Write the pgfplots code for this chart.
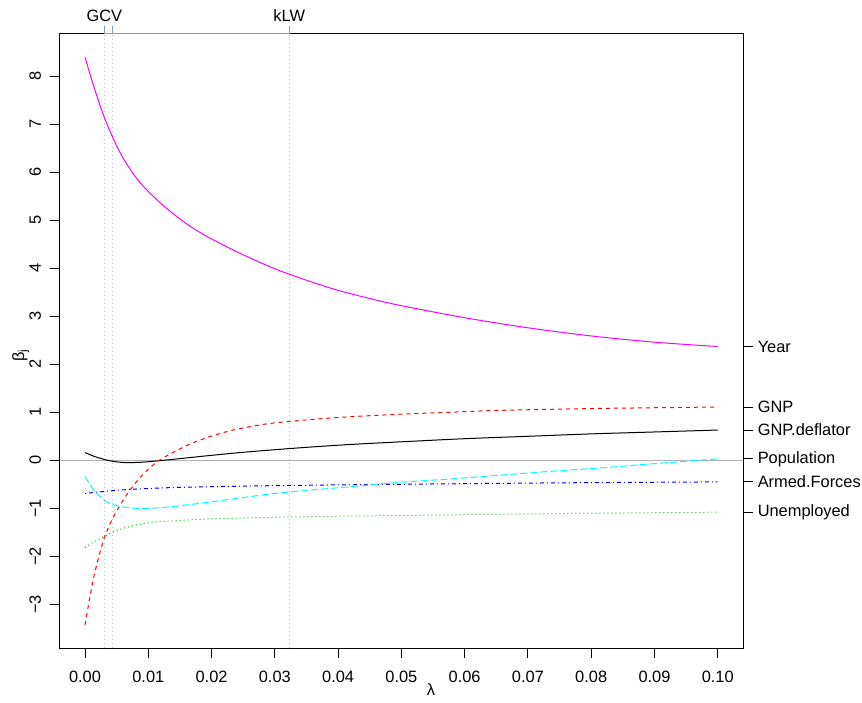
\documentclass[border=0pt]{standalone}
\usepackage{fontspec}
\setmainfont{Liberation Sans}
\usepackage{pgfplots}
\pgfplotsset{compat=1.18}
\definecolor{topc}{RGB}{120,160,190}
\definecolor{vlc}{RGB}{160,200,225}
\definecolor{grn}{RGB}{0,205,0}
\definecolor{mag}{RGB}{255,0,255}
\definecolor{cyn}{RGB}{0,255,255}
\definecolor{blu}{RGB}{0,0,255}
\definecolor{rd}{RGB}{255,0,0}
\newcommand{\lf}{\fontsize{12.3}{14}\selectfont}
\begin{document}
\begin{tikzpicture}
\useasboundingbox (0,0) rectangle (646.5pt,526.5pt);
\pgfplotsset{
  common/.style={
    at={(44.78pt,40.5pt)}, anchor=south west,
    scale only axis, width=512.5pt, height=460.5pt,
    xmin=-0.004, xmax=0.104, ymin=-3.91, ymax=8.88,
    tick align=outside, major tick length=7.5pt,
    tick label style={font=\lf},
  }
}
% main axis
\begin{axis}[common,
  axis line style={line width=0.75pt},
  tick style={black, line width=0.75pt},
  xtick pos=bottom, ytick pos=left,
  xtick={0,0.01,0.02,0.03,0.04,0.05,0.06,0.07,0.08,0.09,0.1},
  xticklabels={0.00,0.01,0.02,0.03,0.04,0.05,0.06,0.07,0.08,0.09,0.10},
  xticklabel style={yshift=-6.5pt},
  ytick={-3,-2,-1,0,1,2,3,4,5,6,7,8},
  yticklabels={−3,−2,−1,0,1,2,3,4,5,6,7,8},
  yticklabel style={rotate=90, anchor=south, yshift=3pt},
  clip=true,
]
\addplot[gray!60, line width=0.75pt] coordinates {(-0.004,0) (0.104,0)};
\addplot[vlc, line width=0.75pt, dash pattern=on 0.75pt off 2.25pt] coordinates {(0.00306,-3.91) (0.00306,8.88)};
\addplot[vlc, line width=0.75pt, dash pattern=on 0.75pt off 2.25pt] coordinates {(0.00433,-3.91) (0.00433,8.88)};
\addplot[vlc, line width=0.75pt, dash pattern=on 0.75pt off 2.25pt] coordinates {(0.03227,-3.91) (0.03227,8.88)};
% GNP.deflator
\addplot[black, line width=0.75pt, smooth] coordinates {
(0,0.16)(0.0015,0.08)(0.0030,0.02)(0.0045,-0.025)(0.0065,-0.048)(0.0090,-0.04)(0.0120,-0.005)(0.0150,0.035)(0.0190,0.09)(0.0240,0.155)(0.0290,0.21)(0.0350,0.27)(0.0420,0.33)(0.0500,0.385)(0.0600,0.45)(0.0700,0.50)(0.0800,0.55)(0.0900,0.59)(0.1,0.63)};
% GNP
\addplot[rd, line width=0.75pt, smooth, dash pattern=on 3pt off 3pt] coordinates {
(0,-3.43)(0.0007,-2.90)(0.0014,-2.42)(0.0022,-2.00)(0.0030,-1.63)(0.0040,-1.31)(0.0050,-1.06)(0.0060,-0.84)(0.0070,-0.64)(0.0083,-0.42)(0.0098,-0.21)(0.0114,-0.03)(0.0130,0.10)(0.0146,0.21)(0.0166,0.34)(0.0188,0.45)(0.0214,0.56)(0.0241,0.65)(0.0288,0.76)(0.034,0.83)(0.041,0.90)(0.0498,0.96)(0.0576,1.00)(0.0656,1.04)(0.0814,1.08)(0.1,1.11)};
% Unemployed
\addplot[grn, line width=0.75pt, smooth, dash pattern=on 0.75pt off 2.25pt] coordinates {
(0,-1.82)(0.0014,-1.70)(0.0030,-1.59)(0.00433,-1.50)(0.0060,-1.42)(0.0080,-1.35)(0.0109,-1.29)(0.0150,-1.25)(0.0200,-1.22)(0.0288,-1.19)(0.0400,-1.165)(0.0498,-1.15)(0.0620,-1.13)(0.075,-1.11)(0.0880,-1.095)(0.1,-1.08)};
% Armed.Forces
\addplot[blu, line width=0.75pt, smooth, dash pattern=on 0.75pt off 2.25pt on 3pt off 2.25pt] coordinates {
(0,-0.69)(0.0056,-0.62)(0.0135,-0.57)(0.0288,-0.53)(0.0498,-0.50)(0.0750,-0.47)(0.1,-0.45)};
% Population
\addplot[cyn, line width=0.75pt, smooth, dash pattern=on 5.25pt off 2.25pt] coordinates {
(0,-0.34)(0.0014,-0.62)(0.0030,-0.83)(0.00433,-0.92)(0.0060,-0.97)(0.0080,-1.0)(0.0100,-1.0)(0.0125,-0.98)(0.0161,-0.93)(0.0214,-0.84)(0.0288,-0.71)(0.034,-0.64)(0.0420,-0.55)(0.0498,-0.46)(0.0576,-0.39)(0.0656,-0.31)(0.0736,-0.23)(0.0814,-0.16)(0.0880,-0.09)(0.094,-0.03)(0.1,0.03)};
% Year
\addplot[mag, line width=0.75pt, smooth] coordinates {
(0,8.40)(0.001,7.95)(0.002,7.54)(0.003,7.16)(0.004,6.84)(0.005,6.55)(0.006,6.30)(0.007,6.09)(0.008,5.90)(0.009,5.74)(0.010,5.60)(0.012,5.35)(0.014,5.13)(0.016,4.93)(0.018,4.76)(0.020,4.61)(0.025,4.28)(0.030,3.99)(0.035,3.75)(0.040,3.54)(0.045,3.37)(0.050,3.22)(0.060,2.97)(0.070,2.76)(0.080,2.59)(0.090,2.46)(0.100,2.37)};
\end{axis}
% right axis labels
\begin{axis}[common,
  axis x line=none, axis y line*=right,
  axis line style={line width=0.75pt},
  tick style={black, line width=0.75pt},
  ytick={2.37,1.11,0.63,0.03,-0.45,-1.08},
  yticklabels={Year,GNP,GNP.deflator,Population,Armed.Forces,Unemployed},
  yticklabel style={anchor=west},
]
\end{axis}
% top axis
\begin{axis}[common,
  axis y line=none, axis x line*=top,
  axis line style={draw=none},
  tick style={topc, line width=0.75pt},
  major tick length=6pt,
  xtick={0.00306,0.00433,0.03227},
  xticklabels={GCV,,kLW},
  clip=false,
]
\draw[topc, line width=0.75pt] (axis cs:0.00306,8.88) -- (axis cs:0.03227,8.88);
\end{axis}
\node[font=\lf] at (323.3pt,9.5pt) {λ};
\node[font=\lf, rotate=90] at (15.5pt,260pt) {β\textsubscript{j}};
\end{tikzpicture}
\end{document}
